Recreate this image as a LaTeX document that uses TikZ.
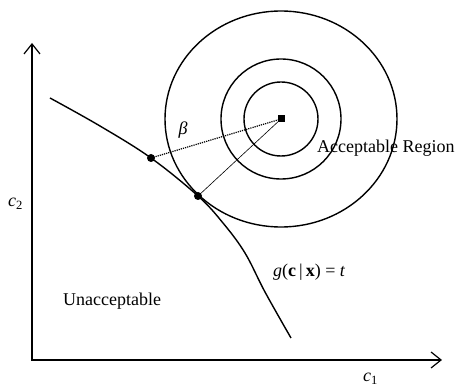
\documentclass[tikz,border=0pt]{standalone}
\usepackage{fontspec}
\setmainfont{Liberation Serif}
\usepackage{tikz}
\usetikzlibrary{arrows.meta}
\usepackage{tkz-euclide}

\begin{document}
\begin{tikzpicture}[x=1pt, y=1pt, font=\fontsize{18}{22}\selectfont,
                barb/.style={line width=1.2pt, {Straight Barb[length=10pt,width=16pt]}-{Straight Barb[length=10pt,width=16pt]}}]
                \useasboundingbox (0,0) rectangle (459,389);
                \tkzDefPoints{32/29/M, 32/346/Y, 442/29/X, 281/270/O, 151/231/P, 198/193/Q}
                \draw[barb] (Y) -- (M) -- (X);
                \draw[line width=1.4pt] plot[smooth, tension=0.6] coordinates {(50,291) (100,263) (P) (Q) (223,166) (245,136) (265,97) (291,51)};
                \draw[line width=1.4pt] (O) circle (37) (O) circle (60) (O) ellipse (116 and 108);
                \draw[densely dotted, line width=1.2pt] (O) -- (P);
                \draw[line width=0.6pt] (O) -- (Q);
                \fill (P) circle (4) (Q) circle (4);
                \fill (O) +(-3.5,-3.5) rectangle +(3.5,3.5);
                \node (beta) at (183,259) {\textit{β}};
                \node[anchor=base west, inner sep=0pt] (acc) at (317,236) {Acceptable Region};
                \node[anchor=base west, inner sep=0pt] (unacc) at (63,83) {Unacceptable};
                \node[anchor=base west, inner sep=0pt] (gct) at (273,112) {\textit{g}(\textbf{c}\,|\,\textbf{x}) = \textit{t}};
                \node[anchor=base west, inner sep=0pt] (ctwo) at (8,182) {\textit{c}\textsubscript{2}};
                \node[anchor=base west, inner sep=0pt] (cone) at (363,7) {\textit{c}\textsubscript{1}};
            \end{tikzpicture}
\end{document}
